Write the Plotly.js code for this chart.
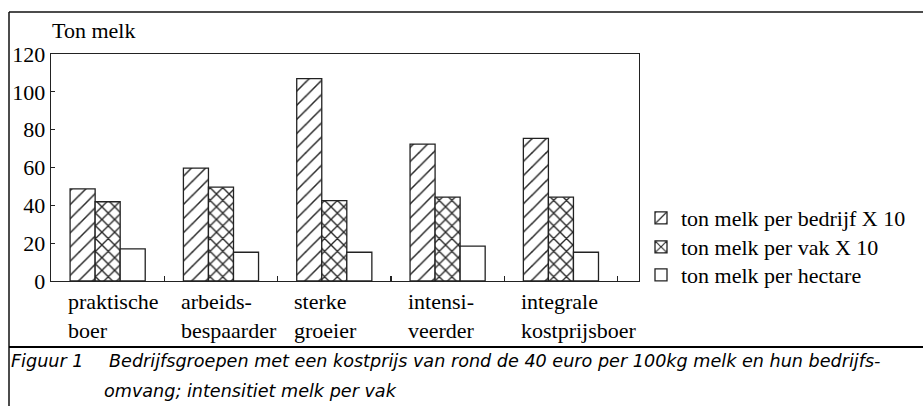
<!DOCTYPE html>
<html><head><meta charset="utf-8">
<script src="https://cdn.plot.ly/plotly-3.0.1.min.js"></script>
<style>html,body{margin:0;padding:0;background:#fff}#chart{width:923px;height:406px}</style>
</head><body><div id="chart"></div>
<script>
const categories = ["praktische<br>boer", "arbeids-<br>bespaarder", "sterke<br>groeier", "intensi-<br>veerder", "integrale<br>kostprijsboer"];
const seriesNames = ["ton melk per bedrijf X 10", "ton melk per vak X 10", "ton melk per hectare"];
const perBedrijf = [48.7, 59.7, 107, 72.4, 75.4];
const perVak = [41.9, 49.6, 42.5, 44.3, 44.3];
const perHectare = [17, 15.2, 15.2, 18.4, 15.2];
const yTicks = [0, 20, 40, 60, 80, 100, 120];
const yTitle = "Ton melk";
const captionLabel = "Figuur 1";
const captionLines = ["Bedrijfsgroepen met een kostprijs van rond de 40 euro per 100kg melk en hun bedrijfs-", "omvang; intensitiet melk per vak"];

const W = 923, H = 406;
const M = {l: 51, r: 284, t: 54, b: 125};
const PW = W - M.l - M.r, PH = H - M.t - M.b;
const px = x => (x - M.l) / PW;
const py = y => (H - M.b - y) / PH;

const serif = "Liberation Serif";
const sans = "DejaVu Sans";
const ink = "#222";

function barTrace(name, vals, shape, size, sol, leg) {
  const m = {color: "white", line: {color: ink, width: 1.3}};
  if (shape) m.pattern = {shape: shape, size: size, solidity: sol, fgcolor: "#262626", bgcolor: "white", fillmode: "replace"};
  return {type: "bar", name: name, x: categories, y: vals, marker: m, hoverinfo: "skip", legend: leg};
}

const data = [
  barTrace(seriesNames[0], perBedrijf, "/", 10, 0.15, "legend"),
  barTrace(seriesNames[1], perVak, "x", 9, 0.28, "legend2"),
  barTrace(seriesNames[2], perHectare, "", 0, 0, "legend3")
];

const capFont = {family: sans, size: 17.6, color: "#000"};
const annotations = [
  {text: yTitle, xref: "paper", yref: "paper", x: px(50), y: py(30), xanchor: "left", yanchor: "middle", showarrow: false, font: {family: serif, size: 22, color: "#000"}},
  {text: "<i>" + captionLabel + "</i>", xref: "paper", yref: "paper", x: px(9), y: py(361), xanchor: "left", yanchor: "middle", showarrow: false, font: capFont},
  {text: "<i>" + captionLines[0] + "</i>", xref: "paper", yref: "paper", x: px(107), y: py(361), xanchor: "left", yanchor: "middle", showarrow: false, font: capFont},
  {text: "<i>" + captionLines[1] + "</i>", xref: "paper", yref: "paper", x: px(102), y: py(391), xanchor: "left", yanchor: "middle", showarrow: false, font: capFont}
];
categories.forEach((c, i) => {
  annotations.push({text: c, xref: "x", yref: "paper", x: i - 0.37, y: py(287), xanchor: "left", yanchor: "top", align: "left", showarrow: false, font: {family: serif, size: 22, color: "#000"}});
});

const shapes = [
  {type: "line", xref: "paper", yref: "paper", x0: px(9), x1: px(930), y0: py(12), y1: py(12), line: {color: "#111", width: 1.5}},
  {type: "line", xref: "paper", yref: "paper", x0: px(9), x1: px(9), y0: py(12), y1: py(410), line: {color: "#111", width: 1.5}},
  {type: "line", xref: "paper", yref: "paper", x0: px(9), x1: px(930), y0: py(347), y1: py(347), line: {color: "#000", width: 2.2}}
];

function legendAt(top) {
  return {x: px(641), y: py(top), xanchor: "left", yanchor: "top", bgcolor: "rgba(0,0,0,0)", font: {family: serif, size: 22, color: "#000"}, itemclick: false, itemdoubleclick: false};
}

const layout = {
  width: W, height: H,
  margin: M,
  font: {family: serif, size: 22, color: "#000"},
  paper_bgcolor: "white", plot_bgcolor: "white",
  barmode: "group", bargap: 0.337, bargroupgap: 0,
  showlegend: true,
  legend: legendAt(197),
  legend2: legendAt(226),
  legend3: legendAt(254),
  xaxis: {type: "category", showline: true, linecolor: ink, linewidth: 1.3, mirror: true, ticks: "inside", tickson: "boundaries", ticklen: 5, tickcolor: ink, tickwidth: 1.2, showticklabels: false, showgrid: false, zeroline: false, fixedrange: true},
  yaxis: {range: [0, 120], tickvals: yTicks, ticktext: yTicks.map(String), showline: true, linecolor: ink, linewidth: 1.3, mirror: true, ticks: "inside", ticklen: 4, tickcolor: ink, tickwidth: 1.2, showgrid: false, zeroline: false, tickfont: {family: serif, size: 22, color: "#000"}, fixedrange: true},
  annotations: annotations,
  shapes: shapes
};

Plotly.newPlot("chart", data, layout, {displayModeBar: false, staticPlot: true});
</script>
</body></html>
